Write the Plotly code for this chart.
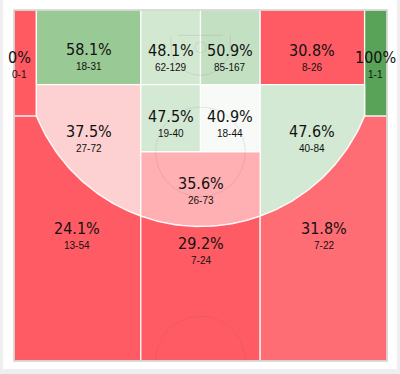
import numpy as np
import plotly.graph_objects as go

# ---------------- data ----------------
zone_names = ["Left Corner 3", "Left Baseline", "Paint Left", "Paint Right",
              "Right Baseline", "Right Corner 3", "Left Wing Mid", "Lane Left",
              "Lane Right", "Right Wing Mid", "Top of Key", "Left Wing 3",
              "Top 3", "Right Wing 3"]
makes = [0, 18, 62, 85, 8, 1, 27, 19, 18, 40, 26, 13, 7, 7]
attempts = [1, 31, 129, 167, 26, 1, 72, 40, 44, 84, 73, 54, 24, 22]

# colour scale (fg% -> fill)
scale_stops = [(0.00, "#ff5962"), (0.31, "#ff5b64"), (0.318, "#ff6d74"),
               (0.356, "#ffb0b3"), (0.375, "#fdd0d1"), (0.409, "#f7faf6"),
               (0.475, "#d4e9d3"), (0.481, "#d3e8d1"), (0.509, "#c4e0c2"),
               (0.581, "#99c995"), (1.00, "#58a358")]


def hex2rgb(h):
    h = h.lstrip("#")
    return np.array([int(h[i:i + 2], 16) for i in (0, 2, 4)], float)


def colour(p):
    for (a, ca), (b, cb) in zip(scale_stops[:-1], scale_stops[1:]):
        if a <= p <= b:
            t = 0 if b == a else (p - a) / (b - a)
            c = hex2rgb(ca) * (1 - t) + hex2rgb(cb) * t
            return "rgb(%d,%d,%d)" % tuple(np.round(c))
    return scale_stops[-1][1]


# ---------------- court geometry (feet) ----------------
HALF_W, LEN = 25.0, 47.0
RIM_Y, R3, CORNER_X, PAINT_X = 5.25, 23.75, 22.0, 8.0
BASE_Y, FT_Y = 10.0, 19.0


def arc_y(x):
    return RIM_Y + np.sqrt(R3 ** 2 - np.asarray(x) ** 2)


def arc(x0, x1, n=60):
    xs = np.linspace(x0, x1, n)
    return list(xs), list(arc_y(xs))


yc = float(arc_y(CORNER_X))
ya8 = float(arc_y(PAINT_X))


def poly(pts):
    xs, ys = [], []
    for seg in pts:
        xs += list(seg[0]); ys += list(seg[1])
    return xs + [xs[0]], ys + [ys[0]]


ax1, ay1 = arc(-CORNER_X, -PAINT_X)
ax2, ay2 = arc(-PAINT_X, PAINT_X)
ax3, ay3 = arc(PAINT_X, CORNER_X)

shapes_geo = [
    poly([([-25, -22, -22, -25], [0, 0, yc, yc])]),
    poly([([-22, -8, -8, -22], [0, 0, BASE_Y, BASE_Y])]),
    poly([([-8, 0, 0, -8], [0, 0, BASE_Y, BASE_Y])]),
    poly([([0, 8, 8, 0], [0, 0, BASE_Y, BASE_Y])]),
    poly([([8, 22, 22, 8], [0, 0, BASE_Y, BASE_Y])]),
    poly([([22, 25, 25, 22], [0, 0, yc, yc])]),
    poly([([-22, -8], [BASE_Y, BASE_Y]), ([-8], [ya8]), (ax1[::-1], ay1[::-1])]),
    poly([([-8, 0, 0, -8], [BASE_Y, BASE_Y, FT_Y, FT_Y])]),
    poly([([0, 8, 8, 0], [BASE_Y, BASE_Y, FT_Y, FT_Y])]),
    poly([([8, 22], [BASE_Y, BASE_Y]), (ax3[::-1], ay3[::-1]), ([8], [ya8])]),
    poly([([-8, 8], [FT_Y, FT_Y]), (ax2[::-1], ay2[::-1])]),
    poly([([-25, -22], [yc, yc]), (ax1, ay1), ([-8, -25], [LEN, LEN])]),
    poly([(ax2, ay2), ([8, -8], [LEN, LEN])]),
    poly([(ax3, ay3), ([25, 25, 8], [yc, LEN, LEN])]),
]

# label anchors (feet): x, y of the percentage text
label_pos = [(-24.2, 6.4), (-14.9, 5.3), (-3.95, 5.4), (4.0, 5.4), (15.0, 5.4),
             (23.5, 6.3), (-14.9, 16.3), (-4.0, 14.3), (4.0, 14.3),
             (14.9, 16.3), (0.0, 23.2), (-16.5, 29.3), (0.0, 31.2),
             (16.5, 29.3)]

fig = go.Figure()

for i, (xs, ys) in enumerate(shapes_geo):
    p = makes[i] / attempts[i]
    fig.add_trace(go.Scatter(x=xs, y=ys, mode="lines", fill="toself",
                             fillcolor=colour(p),
                             line=dict(color="rgba(255,255,255,0.9)", width=1.3),
                             hoverinfo="skip", showlegend=False))

# faint court markings
line_c = "rgba(90,90,90,0.13)"
t = np.linspace(0, 2 * np.pi, 200)
fig.add_trace(go.Scatter(x=6 * np.cos(t), y=FT_Y + 6 * np.sin(t), mode="lines",
                         line=dict(color=line_c, width=1), hoverinfo="skip", showlegend=False))
tt = np.linspace(np.pi, 2 * np.pi, 100)
fig.add_trace(go.Scatter(x=6 * np.cos(tt), y=LEN + 6 * np.sin(tt), mode="lines",
                         line=dict(color=line_c, width=1), hoverinfo="skip", showlegend=False))
# rim
fig.add_trace(go.Scatter(x=0.75 * np.cos(t), y=5.0 + 0.75 * np.sin(t), mode="lines",
                         line=dict(color=line_c, width=1), hoverinfo="skip", showlegend=False))
# backboard
fig.add_trace(go.Scatter(x=[-3, 3], y=[3.4, 3.4], mode="lines",
                         line=dict(color=line_c, width=1), hoverinfo="skip", showlegend=False))
# restricted area
ta = np.linspace(0, np.pi, 80)
rx = [-4, -4] + list(-4 * np.cos(ta)) + [4, 4]
ry = [3.4, 4.75] + list(4.75 + 4 * np.sin(ta)) + [4.75, 3.4]
fig.add_trace(go.Scatter(x=rx, y=ry, mode="lines",
                         line=dict(color=line_c, width=1), hoverinfo="skip", showlegend=False))


def fmt(m, a):
    v = round(100 * m / a, 1)
    return ("%d%%" % v) if v == int(v) else ("%.1f%%" % v)


anns = []
for i, (lx, ly) in enumerate(label_pos):
    anns.append(dict(x=lx, y=ly, xref="x", yref="y", text=fmt(makes[i], attempts[i]),
                     showarrow=False,
                     font=dict(family="DejaVu Sans Condensed, Liberation Sans Narrow, sans-serif",
                               size=16, color="#111")))
    anns.append(dict(x=lx, y=ly + 2.3, xref="x", yref="y",
                     text="%d-%d" % (makes[i], attempts[i]), showarrow=False,
                     font=dict(family="Liberation Sans, Arial, sans-serif", size=10, color="#111")))

W, H = 400, 374
L, R, T, B = 14, 13, 10, 13
pw, ph = W - L - R, H - T - B


def px_x(p):
    return (p - L) / pw


def px_y(p):
    return (H - B - p) / ph


shapes = [
    dict(type="rect", xref="paper", yref="paper", x0=px_x(3), x1=px_x(397),
         y0=px_y(369), y1=px_y(-5), fillcolor="white", line=dict(width=0), layer="below"),
    dict(type="rect", xref="paper", yref="paper", x0=0, x1=1, y0=0, y1=1,
         line=dict(color="#cfcfcf", width=1.5), layer="above"),
]

fig.update_layout(
    width=W, height=H, margin=dict(l=L, r=R, t=T, b=B),
    paper_bgcolor="#eeeeee", plot_bgcolor="white",
    xaxis=dict(range=[-HALF_W, HALF_W], visible=False, fixedrange=True),
    yaxis=dict(range=[LEN, 0], visible=False, fixedrange=True),
    annotations=anns, shapes=shapes, showlegend=False,
)

fig.write_html("out.html", config={"displayModeBar": False},
               post_script="document.body.style.margin='0';document.body.style.overflow='hidden';")
